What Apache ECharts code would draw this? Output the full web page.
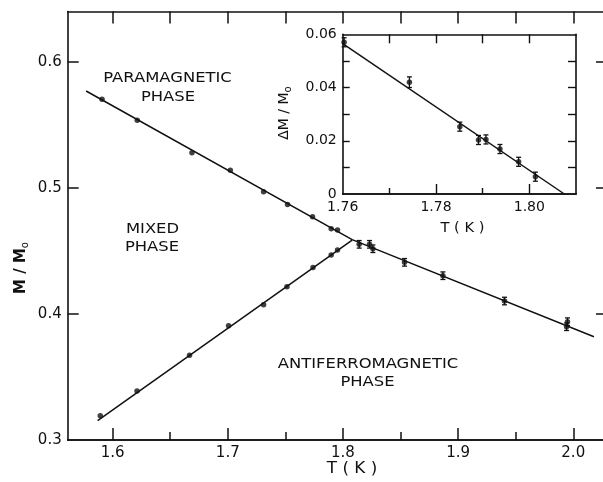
<!DOCTYPE html>
<html><head><meta charset="utf-8">
<script src="https://cdn.jsdelivr.net/npm/echarts@6/dist/echarts.min.js"></script>
<style>html,body{margin:0;padding:0;background:#fff}#c{width:603px;height:482px}</style>
</head><body><div id="c"></div>
<script>
// ---- data ----
const paraT = [1.5908, 1.6214, 1.6689, 1.7022, 1.7311, 1.7519, 1.7736, 1.7898, 1.7953];
const paraM = [0.5704, 0.5537, 0.528, 0.514, 0.497, 0.487, 0.4772, 0.4677, 0.4667];
const afT = [1.5893, 1.6212, 1.6668, 1.7007, 1.7311, 1.7514, 1.774, 1.7898, 1.7953];
const afM = [0.3193, 0.3389, 0.3672, 0.3907, 0.4074, 0.4217, 0.437, 0.4468, 0.4508];
const errT = [1.8141, 1.8231, 1.826, 1.8535, 1.8868, 1.9403, 1.9942, 1.995];
const errM = [0.4553, 0.4553, 0.4518, 0.441, 0.4304, 0.4103, 0.3899, 0.3939];
const errE = [0.003, 0.003, 0.003, 0.003, 0.003, 0.003, 0.003, 0.003];
const fitUpperT = [1.577, 1.808, 2.018];
const fitUpperM = [0.577, 0.459, 0.382];
const fitLowerT = [1.587, 1.808];
const fitLowerM = [0.3153, 0.4587];
const insetT = [1.7603, 1.7743, 1.7851, 1.7891, 1.7907, 1.7937, 1.7977, 1.8013];
const insetD = [0.057, 0.042, 0.0253, 0.0203, 0.0205, 0.0169, 0.0121, 0.0065];
const insetE = [0.0017, 0.002, 0.0017, 0.0017, 0.0017, 0.0017, 0.0017, 0.0017];
const fitInsetT = [1.76, 1.8075];
const fitInsetD = [0.0565, 0];
// ticks
const mainXLabels = [1.6, 1.7, 1.8, 1.9, 2.0];
const mainXMinor = [1.65, 1.75, 1.85, 1.95];
const mainXTop = [1.6, 1.65, 1.7, 1.75, 1.8, 1.85, 1.9, 1.95, 2.0];
const mainYLabels = [0.3, 0.4, 0.5, 0.6];
const mainYTicks = [0.4, 0.5, 0.6];
const insetXLabels = [1.76, 1.78, 1.80];
const insetXMajor = [1.78, 1.80];
const insetXMinor = [1.77, 1.79];
const insetXTop = [1.77, 1.78, 1.79, 1.80];
const insetYLabels = [0, 0.02, 0.04, 0.06];
const insetYTicks = [0.01, 0.02, 0.03, 0.04, 0.05];

const FONT = 'DejaVu Sans';
const INK = '#111';
const zip = (a, b) => a.map((v, i) => [v, b[i]]);

function xAx(o) {
  return Object.assign({
    type: 'value', splitLine: {show: false},
    axisLine: {show: true, onZero: false, lineStyle: {color: INK, width: 1.6}},
    axisTick: {show: true, inside: true, length: 10, lineStyle: {color: INK, width: 1.5}},
    axisLabel: {show: false}
  }, o);
}

const errRender = function (params, api) {
  const x = api.value(0), y = api.value(1), e = api.value(2);
  const t = api.coord([x, y + e]), b = api.coord([x, y - e]);
  const w = 2.5;
  const st = {stroke: INK, lineWidth: 1.3};
  return {type: 'group', children: [
    {type: 'line', shape: {x1: t[0], y1: t[1], x2: b[0], y2: b[1]}, style: st},
    {type: 'line', shape: {x1: t[0] - w, y1: t[1], x2: t[0] + w, y2: t[1]}, style: st},
    {type: 'line', shape: {x1: b[0] - w, y1: b[1], x2: b[0] + w, y2: b[1]}, style: st}
  ]};
};

const tickLab = {show: true, color: INK, fontFamily: FONT, fontSize: 15, margin: 6};
const f14 = '14px "' + FONT + '"';

const option = {
  backgroundColor: '#fff',
  animation: false,
  grid: [
    {left: 67.7, width: 539.3, top: 11.6, height: 428.4, containLabel: false, outerBoundsMode: 'none'},
    {left: 342.7, right: 27, top: 34.3, bottom: 288, show: true, backgroundColor: '#fff', borderWidth: 0, z: 5, outerBoundsMode: 'none'}
  ],
  xAxis: [
    xAx({gridIndex: 0, min: 1.561, max: 2.0293, position: 'bottom',
      axisTick: {show: true, inside: true, length: 12, customValues: mainXLabels, lineStyle: {color: INK, width: 1.5}},
      axisLabel: Object.assign({}, tickLab, {customValues: mainXLabels, formatter: v => v.toFixed(1)})}),
    xAx({gridIndex: 0, min: 1.561, max: 2.0293, position: 'bottom',
      axisTick: {show: true, inside: true, length: 8, customValues: mainXMinor, lineStyle: {color: INK, width: 1.5}}}),
    xAx({gridIndex: 0, min: 1.561, max: 2.0293, position: 'top',
      axisTick: {show: true, inside: true, length: 12, customValues: mainXTop, lineStyle: {color: INK, width: 1.5}}}),
    xAx({gridIndex: 1, min: 1.76, max: 1.81, position: 'bottom', z: 6,
      axisTick: {show: true, inside: true, length: 10, customValues: insetXMajor, lineStyle: {color: INK, width: 1.4}},
      axisLabel: Object.assign({}, tickLab, {fontSize: 14, customValues: insetXLabels, formatter: v => v.toFixed(2)})}),
    xAx({gridIndex: 1, min: 1.76, max: 1.81, position: 'bottom', z: 6,
      axisTick: {show: true, inside: true, length: 6, customValues: insetXMinor, lineStyle: {color: INK, width: 1.4}}}),
    xAx({gridIndex: 1, min: 1.76, max: 1.81, position: 'top', z: 6,
      axisTick: {show: true, inside: true, length: 9, customValues: insetXTop, lineStyle: {color: INK, width: 1.4}}})
  ],
  yAxis: [
    xAx({gridIndex: 0, min: 0.3, max: 0.64, position: 'left',
      axisTick: {show: true, inside: true, length: 11, customValues: mainYTicks, lineStyle: {color: INK, width: 1.5}},
      axisLabel: Object.assign({}, tickLab, {customValues: mainYLabels, formatter: v => v.toFixed(1)})}),
    xAx({gridIndex: 0, min: 0.3, max: 0.64, position: 'right',
      axisTick: {show: true, inside: true, length: 11, customValues: mainYTicks, lineStyle: {color: INK, width: 1.5}}}),
    xAx({gridIndex: 1, min: 0, max: 0.06, position: 'left', z: 6,
      axisTick: {show: true, inside: true, length: 7, customValues: insetYTicks, lineStyle: {color: INK, width: 1.4}},
      axisLabel: Object.assign({}, tickLab, {fontSize: 14, customValues: insetYLabels, formatter: v => v === 0 ? '0' : v.toFixed(2)})}),
    xAx({gridIndex: 1, min: 0, max: 0.06, position: 'right', z: 6,
      axisTick: {show: true, inside: true, length: 8, customValues: insetYTicks, lineStyle: {color: INK, width: 1.4}}})
  ],
  series: [
    {type: 'line', xAxisIndex: 0, yAxisIndex: 0, data: zip(fitUpperT, fitUpperM), showSymbol: false, lineStyle: {color: INK, width: 1.5}},
    {type: 'line', xAxisIndex: 0, yAxisIndex: 0, data: zip(fitLowerT, fitLowerM), showSymbol: false, lineStyle: {color: INK, width: 1.5}},
    {type: 'scatter', xAxisIndex: 0, yAxisIndex: 0, data: zip(paraT, paraM), symbolSize: 5.5, itemStyle: {color: INK}},
    {type: 'scatter', xAxisIndex: 0, yAxisIndex: 0, data: zip(afT, afM), symbolSize: 5.5, itemStyle: {color: INK}},
    {type: 'custom', xAxisIndex: 0, yAxisIndex: 0, renderItem: errRender, encode: {x: 0, y: 1},
      data: errT.map((t, i) => [t, errM[i], errE[i]])},
    {type: 'scatter', xAxisIndex: 0, yAxisIndex: 0, data: zip(errT, errM), symbolSize: 5.5, itemStyle: {color: INK}},
    {type: 'line', xAxisIndex: 3, yAxisIndex: 2, z: 7, data: zip(fitInsetT, fitInsetD), showSymbol: false, lineStyle: {color: INK, width: 1.5}},
    {type: 'custom', xAxisIndex: 3, yAxisIndex: 2, z: 7, renderItem: errRender, encode: {x: 0, y: 1},
      data: insetT.map((t, i) => [t, insetD[i], insetE[i]])},
    {type: 'scatter', xAxisIndex: 3, yAxisIndex: 2, z: 7, data: zip(insetT, insetD), symbolSize: 5.5, itemStyle: {color: INK}}
  ],
  graphic: [
    {type: 'text', x: 167.5, y: 78, scaleX: 1.17, style: {text: 'PARAMAGNETIC', font: f14, fill: INK, textAlign: 'center', textVerticalAlign: 'middle'}},
    {type: 'text', x: 168, y: 97, scaleX: 1.17, style: {text: 'PHASE', font: f14, fill: INK, textAlign: 'center', textVerticalAlign: 'middle'}},
    {type: 'text', x: 152.5, y: 229, scaleX: 1.17, style: {text: 'MIXED', font: f14, fill: INK, textAlign: 'center', textVerticalAlign: 'middle'}},
    {type: 'text', x: 152, y: 247, scaleX: 1.17, style: {text: 'PHASE', font: f14, fill: INK, textAlign: 'center', textVerticalAlign: 'middle'}},
    {type: 'text', x: 368, y: 364, scaleX: 1.17, style: {text: 'ANTIFERROMAGNETIC', font: f14, fill: INK, textAlign: 'center', textVerticalAlign: 'middle'}},
    {type: 'text', x: 367.5, y: 382, scaleX: 1.17, style: {text: 'PHASE', font: f14, fill: INK, textAlign: 'center', textVerticalAlign: 'middle'}},
    {type: 'text', x: 352, y: 469, scaleX: 1.12, style: {text: 'T ( K )', font: '15px "' + FONT + '"', fill: INK, textAlign: 'center', textVerticalAlign: 'middle'}},
    {type: 'text', x: 462.5, y: 228, scaleX: 1.05, style: {text: 'T ( K )', font: f14, fill: INK, textAlign: 'center', textVerticalAlign: 'middle'}},
    {type: 'text', x: 21, y: 268, rotation: Math.PI / 2, style: {
      text: '{a|M / M}{b|o}', fill: INK, textAlign: 'center', textVerticalAlign: 'middle',
      rich: {a: {fontFamily: FONT, fontSize: 15, fontWeight: 'bold', fill: INK}, b: {fontFamily: FONT, fontSize: 10, fill: INK, padding: [8, 0, 0, 0]}}}},
    {type: 'text', x: 284, y: 113, rotation: Math.PI / 2, style: {
      text: '{a|\u0394M / M}{b|o}', fill: INK, textAlign: 'center', textVerticalAlign: 'middle',
      rich: {a: {fontFamily: FONT, fontSize: 14, fill: INK}, b: {fontFamily: FONT, fontSize: 10, fill: INK, padding: [8, 0, 0, 0]}}}}
  ]
};

const chart = echarts.init(document.getElementById('c'), null, {renderer: 'canvas'});
chart.setOption(option);
</script>
</body></html>
